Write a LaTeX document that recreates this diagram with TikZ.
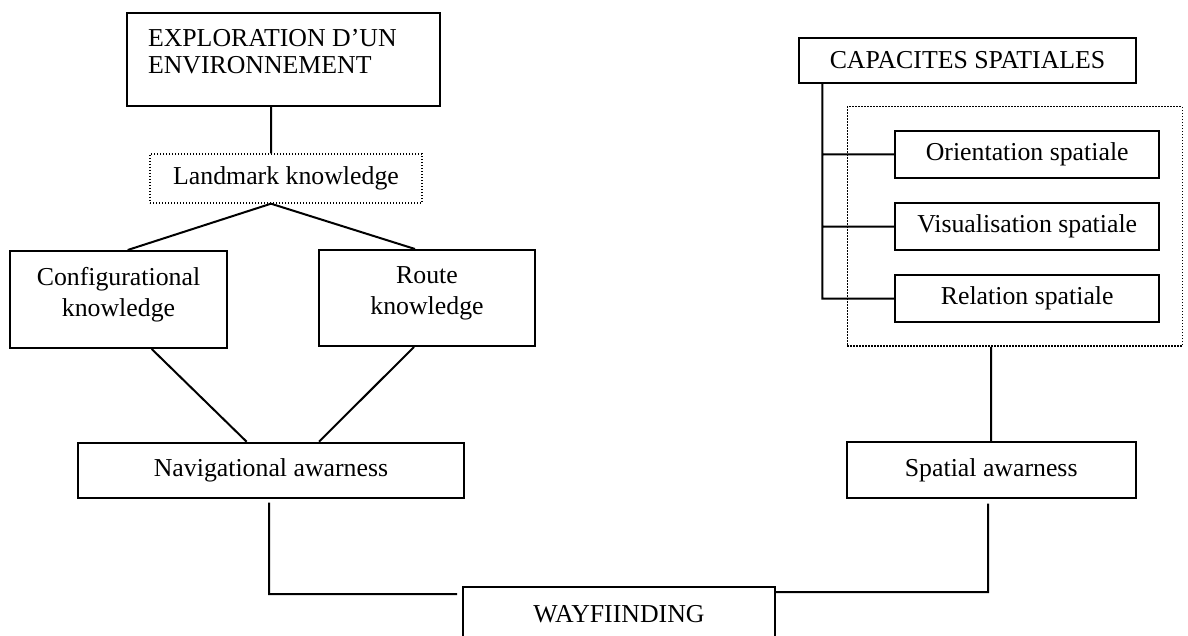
\documentclass[tikz,border=0pt]{standalone}
\usepackage{fontspec}
\setmainfont{Liberation Serif}
\usepackage{tikz}
\usetikzlibrary{calc}

\begin{document}
\begin{tikzpicture}[x=0.5pt, y=-0.5pt, line width=1pt,
		font=\fontsize{12.9}{15}\selectfont,
		box/.style={draw, inner sep=0pt, align=center},
		dotbox/.style={draw, line width=0.7pt, dash pattern=on 0.7pt off 0.8pt, inner sep=0pt}]
			\useasboundingbox (0,0) rectangle (1188,636);
			\node (explo) [box, minimum width=156.5pt, minimum height=46.5pt] at (283.5,59.5)
				{\parbox[c][30pt][t]{135.5pt}{EXPLORATION D'UN\\[-1.5pt]ENVIRONNEMENT}};
			\node (lmk) [dotbox, minimum width=136pt, minimum height=24.5pt] at (286,178.5) {Landmark knowledge};
			\node (config) [box, minimum width=108.5pt, minimum height=48.5pt] at (118.5,299.5)
				{Configurational\\[0.6pt]knowledge\rule[-7.4pt]{0pt}{7.4pt}};
			\node (route) [box, minimum width=108pt, minimum height=48pt] at (427,298)
				{Route\\[0.6pt]knowledge\rule[-7.4pt]{0pt}{7.4pt}};
			\node (nav) [box, minimum width=193pt, minimum height=27.8pt] at (271,470.5) {Navigational awarness};
			\node (wayf) [box, minimum width=156pt, minimum height=27.7pt] at (619,614.3) {WAYFIINDING};
			\node (capa) [box, minimum width=168.5pt, minimum height=22.5pt] at (967.5,60.5) {CAPACITES SPATIALES};
			\node (group) [dotbox, minimum width=167.5pt, minimum height=119.7pt] at (1014.8,226.4) {};
			\node (orient) [box, minimum width=132.2pt, minimum height=23.8pt] at (1027.2,154.5) {Orientation spatiale};
			\node (visu) [box, minimum width=132.2pt, minimum height=23.8pt] at (1027.2,226.7) {Visualisation spatiale};
			\node (rel) [box, minimum width=132.2pt, minimum height=23.8pt] at (1027.2,298.5) {Relation spatiale};
			\node (spat) [box, minimum width=144.5pt, minimum height=28pt] at (991.2,470.3) {Spatial awarness};
			\coordinate (lk) at ([xshift=-7.5pt]lmk.south);
			\coordinate (spine) at ([xshift=12.2pt]capa.south west);
			\path[draw]
			(explo.south -| lk) -- (lmk.north -| lk)
			(lk) -- ([xshift=4.6pt]config.north)
			(lk) -- ([xshift=-6pt]route.north)
			([xshift=16.6pt]config.south) -- ([xshift=-12.2pt]nav.north)
			([xshift=-6.5pt]route.south) -- ([xshift=24pt]nav.north)
			(spine) |- (rel.west)
			(spine |- orient.west) -- (orient.west)
			(spine |- visu.west) -- (visu.west)
			(group.south -| spat.north) -- (spat.north)
			([xshift=-1pt,yshift=-1.7pt]nav.south) |- ([xshift=-2.5pt,yshift=-4.2pt]wayf.north west)
			([xshift=-1.5pt,yshift=-2.2pt]spat.south) |- ([yshift=-3.3pt]wayf.north east);
		\end{tikzpicture}
\end{document}
